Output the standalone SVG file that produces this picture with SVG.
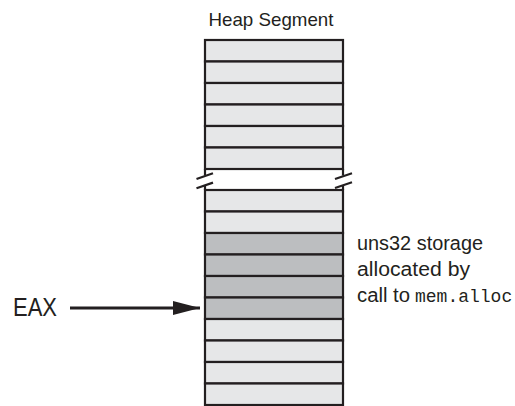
<svg xmlns="http://www.w3.org/2000/svg" width="515" height="406" viewBox="0 0 515 406">
<style>
.row{stroke:#231f20;stroke-width:2.2}
.light{fill:#e6e7e8}
.dark{fill:#bcbec0}
.edge{stroke:#231f20;stroke-width:2.2;fill:none}
.txt{font-family:"Liberation Sans",Arial,sans-serif;fill:#231f20}
.mono{font-family:"Liberation Mono","DejaVu Sans Mono",monospace}
</style>
<defs>
<marker id="arrow" markerUnits="userSpaceOnUse" markerWidth="28" markerHeight="14" refX="27" refY="7" orient="auto">
<path d="M0,0 L27,7 L0,14 Z" fill="#231f20"/>
</marker>
</defs>
<rect width="515" height="406" fill="#ffffff"/>
<g id="heap-label"><text class="txt" x="271" y="26" font-size="19" text-anchor="middle" textLength="125" lengthAdjust="spacingAndGlyphs">Heap Segment</text></g>
<g id="heap-segment">
<g id="upper-rows">
<rect class="row light" x="205" y="40" width="138" height="21.5"/>
<rect class="row light" x="205" y="61.5" width="138" height="21.5"/>
<rect class="row light" x="205" y="83" width="138" height="21.5"/>
<rect class="row light" x="205" y="104.5" width="138" height="21.5"/>
<rect class="row light" x="205" y="126" width="138" height="21.5"/>
<rect class="row light" x="205" y="147.5" width="138" height="21.5"/>
</g>
<g id="break">
<line class="edge" x1="205" y1="169" x2="205" y2="175.5"/>
<line class="edge" x1="205" y1="185" x2="205" y2="190"/>
<line class="edge" x1="343" y1="169" x2="343" y2="175.5"/>
<line class="edge" x1="343" y1="185" x2="343" y2="190"/>
<line class="edge" x1="196.5" y1="179" x2="213" y2="173.3"/>
<line class="edge" x1="196.5" y1="188.3" x2="213" y2="182.6"/>
<line class="edge" x1="335" y1="179" x2="352" y2="173.3"/>
<line class="edge" x1="335" y1="188" x2="352" y2="182.3"/>
</g>
<g id="lower-rows">
<rect class="row light" x="205" y="190" width="138" height="21.5"/>
<rect class="row light" x="205" y="211.5" width="138" height="21.5"/>
<rect class="row dark" x="205" y="233" width="138" height="21.5"/>
<rect class="row dark" x="205" y="254.5" width="138" height="21.5"/>
<rect class="row dark" x="205" y="276" width="138" height="21.5"/>
<rect class="row dark" x="205" y="297.5" width="138" height="21.5"/>
<rect class="row light" x="205" y="319" width="138" height="21.5"/>
<rect class="row light" x="205" y="340.5" width="138" height="21.5"/>
<rect class="row light" x="205" y="362" width="138" height="21.5"/>
<rect class="row light" x="205" y="383.5" width="138" height="21.5"/>
</g>
</g>
<g id="eax"><text class="txt" x="13" y="316" font-size="26" textLength="44" lengthAdjust="spacingAndGlyphs">EAX</text></g>
<g id="annotation">
<text class="txt" x="357" y="250" font-size="20" textLength="126" lengthAdjust="spacingAndGlyphs">uns32 storage</text>
<text class="txt" x="357" y="275.5" font-size="20" textLength="113" lengthAdjust="spacingAndGlyphs">allocated by</text>
<text class="txt" x="357" y="301.5" font-size="20"><tspan textLength="53" lengthAdjust="spacingAndGlyphs">call to</tspan><tspan class="mono" x="415" font-size="18">mem.alloc</tspan></text>
</g>
<g id="connectors">
<line x1="70" y1="308" x2="200" y2="308" stroke="#231f20" stroke-width="2.8" marker-end="url(#arrow)"/>
</g>
</svg>
